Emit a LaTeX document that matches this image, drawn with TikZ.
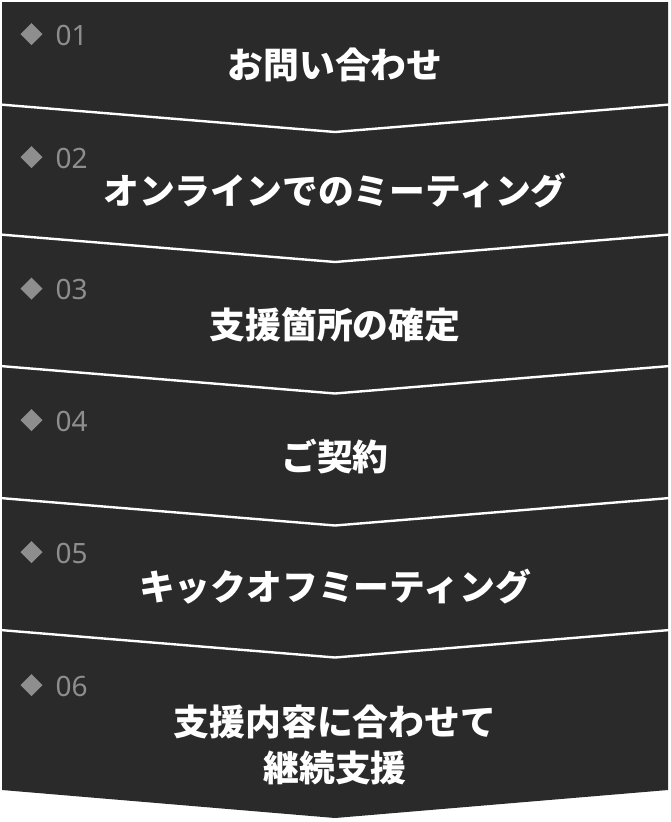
\documentclass[tikz,border=0pt]{standalone}
\usepackage{fontspec}
\newfontfamily\jp{Noto Sans CJK JP}
\newfontfamily\num{Noto Sans}
\definecolor{panel}{HTML}{2A2A2A}
\definecolor{numgray}{HTML}{8E8E8E}
\tikzset{
  stepnum/.style={text=numgray, font=\num\fontsize{28}{32}\selectfont, inner sep=0pt, anchor=west},
  stepdia/.style={fill=numgray, draw=none},
  steptitle/.style={text=white, font=\jp\bfseries\fontsize{35.8}{46}\selectfont, inner sep=0pt, align=center},
  sepline/.style={draw=white, line width=2.4pt},
}
\begin{document}
\begin{tikzpicture}[x=1pt,y=-1pt]
\useasboundingbox (0,0) rectangle (670,822);
\fill[white] (0,0) rectangle (670,822);
% dark panel
\fill[panel] (2,2) -- (668,2) -- (668,790) -- (335,818) -- (2,790) -- cycle;
% separators
\foreach \yy in {104.5,234.5,366,498,630} {
  \draw[sepline] (0,\yy) -- (335,\yy+27.5) -- (670,\yy);
}
% diamonds and numbers
\foreach \yy/\n [count=\i] in {34/01,157/02,288.5/03,420/04,552/05,685/06} {
  \fill[stepdia] (31.5,\yy-11) -- (42.5,\yy) -- (31.5,\yy+11) -- (20.5,\yy) -- cycle;
  \node[stepnum] (n\i) at (55.5,\yy+1) {\n};
}
% titles
\node[steptitle] (t1) at (335,65) {お問い合わせ};
\node[steptitle] (t2) at (335,191) {オンラインでのミーティング};
\node[steptitle] (t3) at (335,325) {支援箇所の確定};
\node[steptitle] (t4) at (335,457) {ご契約};
\node[steptitle] (t5) at (335,587) {キックオフミーティング};
\node[steptitle] (t6) at (335,745) {支援内容に合わせて\\継続支援};
\end{tikzpicture}
\end{document}
